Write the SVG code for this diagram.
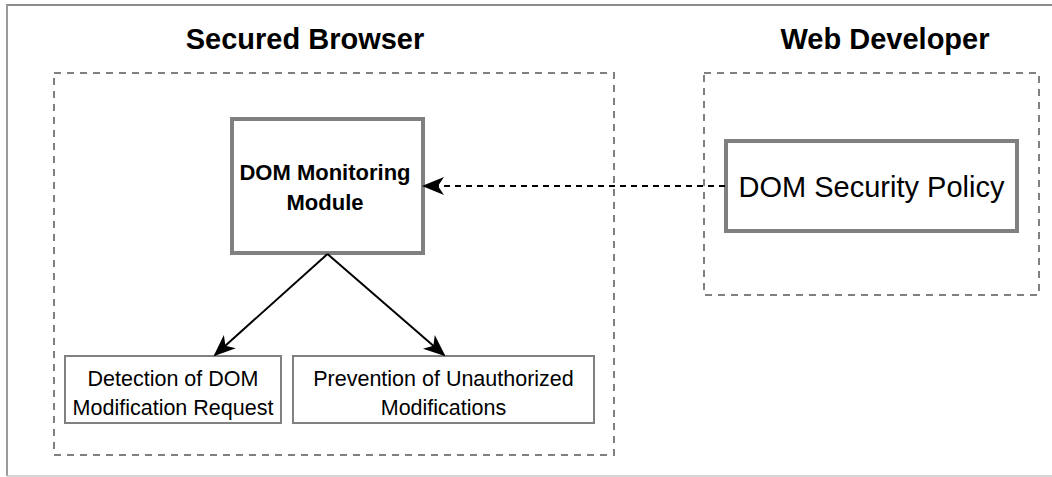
<svg xmlns="http://www.w3.org/2000/svg" width="1052" height="477" viewBox="0 0 1052 477">
<defs>
<marker id="ah" viewBox="0 0 22 22" refX="20" refY="11" markerWidth="22" markerHeight="22" markerUnits="userSpaceOnUse" orient="auto">
<path d="M0,2 L22,11 L0,20 L6,11 Z" fill="#000"/>
</marker>
</defs>
<style>
.t{font-family:"Liberation Sans",Arial,sans-serif;fill:#000;text-anchor:middle}
.title{font-size:29px;font-weight:bold}
.grp{fill:none;stroke:#808080;stroke-width:2;stroke-dasharray:7 6}
.box{fill:#fff;stroke:#808080}
.con{fill:none;stroke:#000;stroke-width:2}
</style>
<rect x="0" y="0" width="1052" height="477" fill="#fff"/>
<g id="frame">
<line x1="6" y1="5" x2="1052" y2="5" stroke="#8c8c8c" stroke-width="2"/>
<line x1="7" y1="5" x2="7" y2="476" stroke="#9a9a9a" stroke-width="2"/>
<line x1="7" y1="476" x2="1052" y2="476" stroke="#c8c8c8" stroke-width="1.5"/>
</g>
<g id="secured-browser">
<text class="t title" x="305" y="49">Secured Browser</text>
<rect class="grp" x="54" y="73" width="560" height="382"/>
</g>
<g id="web-developer">
<text class="t title" x="885" y="49">Web Developer</text>
<rect class="grp" x="704" y="73" width="335" height="222"/>
</g>
<g id="dom-monitoring-module">
<rect class="box" x="232" y="119" width="191" height="134" stroke-width="4"/>
<text class="t" x="325" y="180" font-size="22" font-weight="bold">DOM Monitoring</text>
<text class="t" x="325" y="210" font-size="22" font-weight="bold">Module</text>
</g>
<g id="dom-security-policy">
<rect class="box" x="726" y="141" width="291" height="90" stroke-width="4"/>
<text class="t" x="871.5" y="197" font-size="29">DOM Security Policy</text>
</g>
<g id="detection">
<rect class="box" x="65" y="356" width="216" height="67" stroke-width="2"/>
<text class="t" x="173" y="386" font-size="21.5">Detection of DOM</text>
<text class="t" x="173" y="415" font-size="21.5">Modification Request</text>
</g>
<g id="prevention">
<rect class="box" x="293" y="356" width="301" height="67" stroke-width="2"/>
<text class="t" x="443.5" y="386" font-size="21.5">Prevention of Unauthorized</text>
<text class="t" x="443.5" y="415" font-size="21.5">Modifications</text>
</g>
<g id="connectors">
<line class="con" x1="327.5" y1="254" x2="215" y2="355" marker-end="url(#ah)"/>
<line class="con" x1="327.5" y1="254" x2="444" y2="355" marker-end="url(#ah)"/>
<line class="con" x1="725" y1="186" x2="424" y2="186" stroke-dasharray="6 5" marker-end="url(#ah)"/>
</g>
</svg>
